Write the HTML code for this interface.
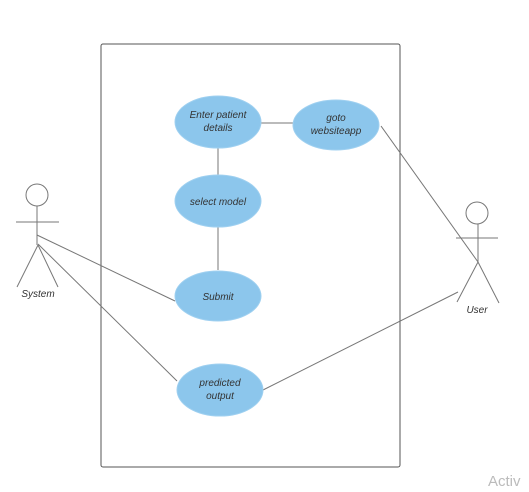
<!DOCTYPE html>
<html><head><style>
body{margin:0;background:#fff;}
svg{display:block;font-family:"Liberation Sans",sans-serif;}
</style></head><body>
<svg width="529" height="492" viewBox="0 0 529 492">
<rect x="101" y="44" width="299" height="423" rx="2" fill="none" stroke="#555" stroke-width="1"/>
<g stroke="#777" stroke-width="1" fill="none">
<line x1="261" y1="123" x2="293" y2="123"/>
<line x1="218" y1="148" x2="218" y2="175"/>
<line x1="218" y1="227" x2="218" y2="270"/>
<line x1="381" y1="126" x2="478" y2="262"/>
<line x1="263" y1="390" x2="458" y2="292"/>
<line x1="37" y1="235" x2="175" y2="301"/>
<line x1="38" y1="244" x2="177" y2="381"/>
<circle cx="37" cy="195" r="11"/>
<line x1="16" y1="222" x2="59" y2="222"/>
<line x1="37" y1="206" x2="37" y2="245"/>
<line x1="38" y1="245" x2="17" y2="287"/>
<line x1="38" y1="245" x2="58" y2="287"/>
<circle cx="477" cy="213" r="11"/>
<line x1="456" y1="238" x2="498" y2="238"/>
<line x1="478" y1="224" x2="478" y2="262"/>
<line x1="478" y1="262" x2="457" y2="302"/>
<line x1="478" y1="262" x2="499" y2="303"/>
</g>
<g fill="#8cc6ec" stroke="#9fd0f0">
<ellipse cx="218" cy="122" rx="43" ry="26"/>
<ellipse cx="336" cy="125" rx="43" ry="25"/>
<ellipse cx="218" cy="201" rx="43" ry="26"/>
<ellipse cx="218" cy="296" rx="43" ry="25"/>
<ellipse cx="220" cy="390" rx="43" ry="26"/>
</g>
<g font-size="10" font-style="italic" fill="#333" text-anchor="middle">
<text x="218" y="118">Enter patient</text>
<text x="218" y="131">details</text>
<text x="336" y="121">goto</text>
<text x="336" y="134">websiteapp</text>
<text x="218" y="205">select model</text>
<text x="218" y="300">Submit</text>
<text x="220" y="386">predicted</text>
<text x="220" y="399">output</text>
<text x="38" y="297">System</text>
<text x="477" y="313">User</text>
</g>
<text x="488" y="486" font-size="15" fill="#bbb">Activ</text>
</svg>
</body></html>
